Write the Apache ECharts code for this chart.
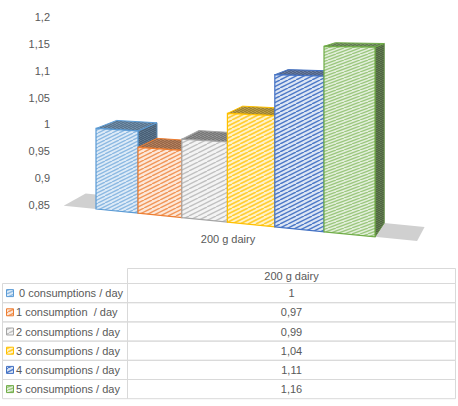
<!DOCTYPE html>
<html>
<head>
<meta charset="utf-8">
<script src="https://cdn.jsdelivr.net/npm/echarts@6/dist/echarts.min.js"></script>
<style>
html, body { margin: 0; padding: 0; background: #fff; }
#container { width: 458px; height: 406px; }
</style>
</head>
<body>
<div id="container"></div>
<script>
var categories = ['200 g dairy'];
var seriesNames = [' 0 consumptions / day', '1 consumption  / day', '2 consumptions / day',
    '3 consumptions / day', '4 consumptions / day', '5 consumptions / day'];
var seriesValues = [1, 0.97, 0.99, 1.04, 1.11, 1.16];
var yMin = 0.85, yMax = 1.2, yStep = 0.05;

var colors = ['#5B9BD5', '#ED7D31', '#A5A5A5', '#FFC000', '#4472C4', '#70AD47'];
// hatch tile per series: [w, h, lineWidth, background tint, line tint]
var hatchSpec = [
    [7, 3.5, 1.4, 0.8, 0.3],
    [8, 4, 1.5, 0.82, 0.2],
    [9, 4.5, 1.4, 0.88, 0.3],
    [8, 4, 1.6, 0.8, 0.2],
    [8, 4, 1.5, 0.82, 0.05],
    [8, 3, 1.3, 0.8, 0.3]
];

var font = "'Liberation Sans', Arial, sans-serif";
var textColor = '#595959';

// perspective look of the Excel 3D chart
var warp = 0.116, grow = 0.0005, drop = 4, slope = 0.1;
var vanishX = 600, vanishY = -20, depthX = 0.041, depthY = 0.054;

function mix(a, b, t) {
    var pa = parseInt(a.slice(1), 16), pb = parseInt(b.slice(1), 16);
    var r = Math.round(((pa >> 16) & 255) * (1 - t) + ((pb >> 16) & 255) * t);
    var g = Math.round(((pa >> 8) & 255) * (1 - t) + ((pb >> 8) & 255) * t);
    var bl = Math.round((pa & 255) * (1 - t) + (pb & 255) * t);
    return '#' + ((1 << 24) + (r << 16) + (g << 8) + bl).toString(16).slice(1);
}

function hatch(bg, fg, spec) {
    var w = spec[0], h = spec[1];
    var c = document.createElement('canvas');
    c.width = Math.round(w * 2);
    c.height = Math.round(h * 2);
    var g = c.getContext('2d');
    g.fillStyle = bg;
    g.fillRect(0, 0, c.width, c.height);
    g.strokeStyle = fg;
    g.lineWidth = spec[2];
    for (var k = -2; k <= 2; k++) {
        g.beginPath();
        g.moveTo(k * w, c.height);
        g.lineTo(k * w + c.width, 0);
        g.stroke();
    }
    return { image: c, repeat: 'repeat', imageWidth: c.width, imageHeight: c.height };
}

var frontFill = colors.map(function (c, i) {
    var s = hatchSpec[i];
    return hatch(mix(c, '#ffffff', s[3]), mix(c, '#ffffff', s[4]), s);
});
var topFill = colors.map(function (c) {
    return hatch(mix(c, '#8c8c8c', 0.55), mix(c, '#4a4a4a', 0.6), [4, 2, 1]);
});
var sideFill = colors.map(function (c) {
    return hatch(mix(c, '#666666', 0.6), mix(c, '#333333', 0.65), [4, 2, 1]);
});

function projector(params, api) {
    var cs = params.coordSys;
    var yBase = api.coord([0, yMin])[1];
    return function (u, v, d) {
        var f = api.coord([u, v]);
        var t = (f[0] - cs.x) / cs.width;
        var x = cs.x + cs.width * (t * (1 - warp) + warp * t * t);
        var s = 1 + grow * (x - cs.x);
        var y = yBase + drop + slope * (x - cs.x) - (yBase - f[1]) * s;
        if (d) {
            x += d * depthX * (vanishX - x);
            y -= d * depthY * (y - vanishY);
        }
        return [x, y];
    };
}

function renderFloor(params, api) {
    var p = projector(params, api);
    var a = api.value(0), b = api.value(1);
    return {
        type: 'polygon',
        shape: { points: [p(a, yMin, 0), p(b, yMin, 0), p(b, yMin, 1), p(a, yMin, 1)] },
        style: { fill: '#d0d0d0' }
    };
}

function makeBarRenderer(i) {
    return function (params, api) {
        var p = projector(params, api);
        var u = api.value(0), v = api.value(1);
        var fl = p(u, yMin, 0), fr = p(u + 1, yMin, 0);
        var ftl = p(u, v, 0), ftr = p(u + 1, v, 0);
        var btl = p(u, v, 1), btr = p(u + 1, v, 1), bbr = p(u + 1, yMin, 1);
        return {
            type: 'group',
            children: [
                { type: 'polygon', shape: { points: [fr, bbr, btr, ftr] },
                  style: { fill: sideFill[i], stroke: mix(colors[i], '#404040', 0.3), lineWidth: 1 } },
                { type: 'polygon', shape: { points: [ftl, ftr, btr, btl] },
                  style: { fill: topFill[i], stroke: colors[i], lineWidth: 1 } },
                { type: 'polygon', shape: { points: [fl, fr, ftr, ftl] },
                  style: { fill: frontFill[i], stroke: colors[i], lineWidth: 1.2 } }
            ]
        };
    };
}

function fmt(v) {
    return String(+(+v).toFixed(2)).replace('.', ',');
}

// data table under the chart
var tableTop = 268.5, headH = 15, rowH = 19.2;
var colLeft = 2.5, colMid = 127.5, colRight = 455.5;
var lineColor = '#d9d9d9';
var tableEls = [
    { type: 'rect', shape: { x: colMid, y: tableTop, width: colRight - colMid, height: headH },
      style: { fill: 'none', stroke: lineColor, lineWidth: 1 } },
    { type: 'text', x: (colMid + colRight) / 2, y: tableTop + headH / 2,
      style: { text: categories[0], fill: textColor, font: '11px ' + font, align: 'center', verticalAlign: 'middle' } }
];
seriesNames.forEach(function (name, i) {
    var y = tableTop + headH + i * rowH;
    var yc = y + rowH / 2;
    tableEls.push(
        { type: 'rect', shape: { x: colLeft, y: y, width: colMid - colLeft, height: rowH },
          style: { fill: 'none', stroke: lineColor, lineWidth: 1 } },
        { type: 'rect', shape: { x: colMid, y: y, width: colRight - colMid, height: rowH },
          style: { fill: 'none', stroke: lineColor, lineWidth: 1 } },
        { type: 'rect', shape: { x: 6.5, y: yc - 3.5, width: 7, height: 7 },
          style: { fill: frontFill[i], stroke: colors[i], lineWidth: 1 } },
        { type: 'text', x: 16, y: yc,
          style: { text: name, fill: textColor, font: '11px ' + font, align: 'left', verticalAlign: 'middle' } },
        { type: 'text', x: (colMid + colRight) / 2, y: yc,
          style: { text: fmt(seriesValues[i]), fill: textColor, font: '11px ' + font, align: 'center', verticalAlign: 'middle' } }
    );
});

var series = [{
    type: 'custom',
    name: 'floor',
    renderItem: renderFloor,
    encode: { x: [0, 1] },
    data: [[-0.8, 6.8]],
    silent: true,
    z: 1
}];
seriesNames.forEach(function (name, i) {
    series.push({
        type: 'custom',
        name: name,
        renderItem: makeBarRenderer(i),
        encode: { x: 0, y: 1 },
        data: [[i, seriesValues[i]]],
        z: 2
    });
});

var dom = document.getElementById('container');
var myChart = echarts.init(dom, null, { renderer: 'svg' });

var option = {
    animation: false,
    backgroundColor: '#ffffff',
    grid: { left: 96, right: 83, top: 17, bottom: 201 },
    xAxis: [
        { type: 'value', min: 0, max: 6, show: false },
        {
            type: 'category', data: categories, position: 'bottom',
            axisLine: { show: false }, axisTick: { show: false }, splitLine: { show: false },
            axisLabel: { margin: 28, color: textColor, fontSize: 11, fontFamily: font, padding: [0, 15, 0, 0] }
        }
    ],
    yAxis: {
        type: 'value', min: yMin, max: yMax, interval: yStep,
        axisLine: { show: false }, axisTick: { show: false }, splitLine: { show: false },
        axisLabel: { margin: 46, color: textColor, fontSize: 11, fontFamily: font, formatter: fmt }
    },
    series: series,
    graphic: tableEls
};

myChart.setOption(option);
</script>
</body>
</html>
